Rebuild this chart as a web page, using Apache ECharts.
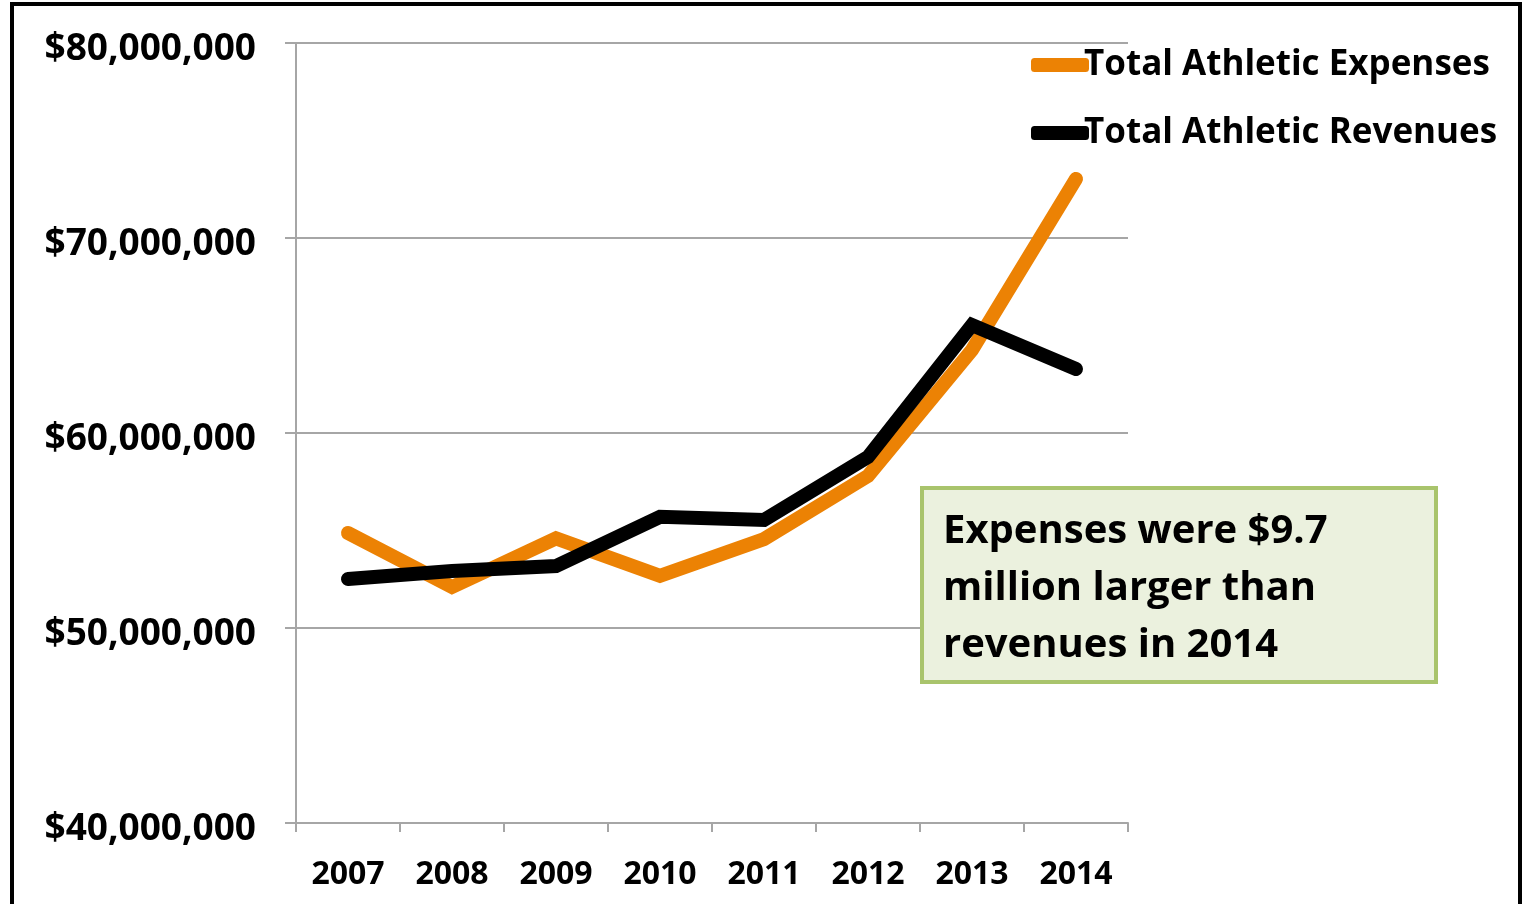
<!DOCTYPE html>
<html>
<head>
<meta charset="utf-8">
<script src="https://cdn.jsdelivr.net/npm/echarts@6/dist/echarts.min.js"></script>
<style>
html,body{margin:0;padding:0;background:#fff;}
#chart{width:1523px;height:904px;}
</style>
</head>
<body>
<div id="chart"></div>
<script>
const years = ['2007','2008','2009','2010','2011','2012','2013','2014'];
const expenses = [54870000, 52100000, 54600000, 52670000, 54560000, 57800000, 64260000, 73030000];
const revenues = [52510000, 52920000, 53180000, 55700000, 55540000, 58770000, 65540000, 63280000];
const seriesNames = ['Total Athletic Expenses', 'Total Athletic Revenues'];
const yTicks = { min: 40000000, max: 80000000, step: 10000000 };
const noteLines = ['Expenses were $9.7', 'million larger than', 'revenues in 2014'];

const FONT = 'Open Sans';
const chart = echarts.init(document.getElementById('chart'));
const grey = '#a6a6a6';
chart.setOption({
  animation: false,
  backgroundColor: '#fff',
  grid: { left: 296, right: 395, top: 43, bottom: 81, containLabel: false },
  legend: {
    data: seriesNames,
    orient: 'vertical',
    left: 1026, top: 38,
    icon: 'roundRect',
    itemWidth: 58, itemHeight: 14,
    itemGap: 24,
    textStyle: { fontFamily: FONT, fontWeight: 'bold', fontSize: 35, lineHeight: 44, color: '#000', padding: [0,0,0,-10] }
  },
  xAxis: {
    type: 'category',
    data: years,
    boundaryGap: true,
    axisLine: { lineStyle: { color: grey, width: 2 } },
    axisTick: { show: true, length: 9, interval: 0, lineStyle: { color: grey, width: 2 } },
    axisLabel: { margin: 36, fontFamily: FONT, fontWeight: 'bold', fontSize: 32, color: '#000', interval: 0 }
  },
  yAxis: {
    type: 'value',
    min: yTicks.min, max: yTicks.max, interval: yTicks.step,
    axisLine: { show: true, lineStyle: { color: grey, width: 2 } },
    axisTick: { show: true, length: 11, lineStyle: { color: grey, width: 2 } },
    splitLine: { lineStyle: { color: grey, width: 2 } },
    axisLabel: {
      margin: 40, color: '#000',
      formatter: v => '{a|$' + v.toLocaleString('en-US') + '}',
      rich: { a: { fontFamily: FONT, fontWeight: 'bold', fontSize: 37, color: '#000', padding: [12, 0, 0, 0] } }
    }
  },
  series: [
    {
      name: seriesNames[0], type: 'line', data: expenses,
      symbol: 'none', color: '#ec8204',
      lineStyle: { width: 14, color: '#ec8204', cap: 'round', join: 'miter' }
    },
    {
      name: seriesNames[1], type: 'line', data: revenues,
      symbol: 'none', color: '#000',
      lineStyle: { width: 14, color: '#000', cap: 'round', join: 'miter' }
    }
  ],
  graphic: [
    { type: 'rect', shape: { x: 12, y: 4, width: 1508, height: 1000 },
      style: { fill: 'none', stroke: '#000', lineWidth: 4 }, silent: true, z: 100 },
    { type: 'rect', shape: { x: 922, y: 488, width: 514, height: 194 },
      style: { fill: '#ebf1de', stroke: '#a9c46c', lineWidth: 4 }, z: 50 },
    { type: 'text', left: 943, top: 503, z: 51,
      style: { text: noteLines.join('\n'), fontFamily: FONT, fontWeight: 'bold', fontSize: 40, lineHeight: 57, fill: '#000' } }
  ]
});
</script>
</body>
</html>
